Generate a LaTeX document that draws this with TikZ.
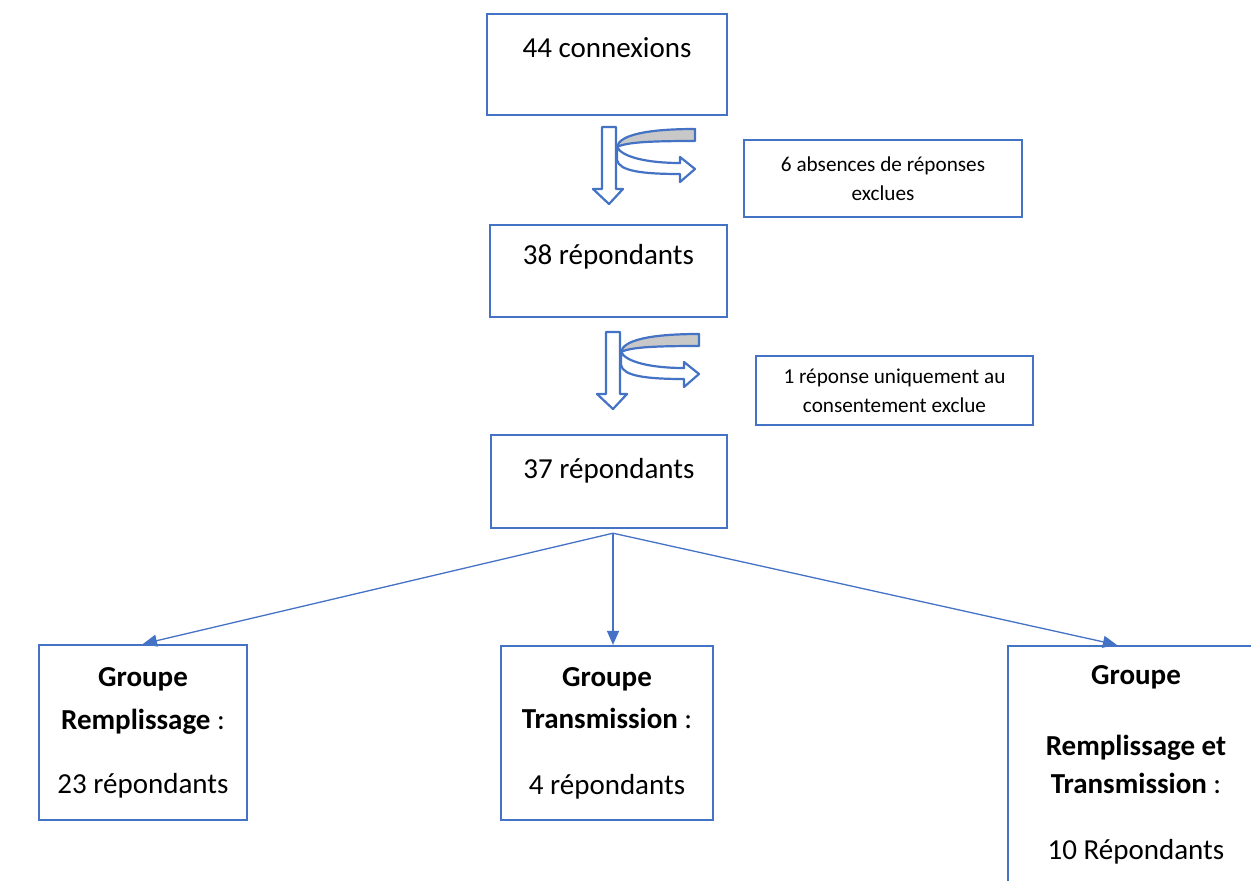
\documentclass[tikz,border=0pt]{standalone}
\usepackage{fontspec}
\setmainfont{Carlito}
\usetikzlibrary{arrows.meta,calc}
\definecolor{officeblue}{HTML}{4472C4}
\definecolor{bandgray}{HTML}{C8C8C8}

\tikzset{
  blockline/.style = {draw=officeblue, line width=2.2pt, line join=round},
  % fleche creuse vers le bas + demi-tour
  exclusion/.pic = {
    \draw[blockline, fill=white] (0,0) -- (14,0) -- (14,62) -- (21,62)
      -- (7,77) -- (-9,62) -- (0,62) -- cycle;
    \draw[blockline, fill=bandgray] (15,20) .. controls (17,8) and (45,2) .. (93,2)
      -- (93,14) .. controls (50,14) and (25,15) .. (15,20);
    \draw[blockline, fill=white] (15,20) .. controls (20,30) and (45,36) .. (78,36)
      -- (78,30) -- (93,42) -- (78,55) -- (78,47)
      .. controls (40,47) and (17,44) .. (15,33) -- cycle;
  }
}

\begin{document}
\begin{tikzpicture}[x=1pt, y=-1pt,
  every node/.style = {draw=officeblue, line width=2.2pt, align=center,
    font=\fontsize{29}{35.4}\selectfont},
  stage/.style = {anchor=north, inner xsep=0pt, inner ysep=0pt},
  note/.style = {font=\fontsize{21.2}{29}\selectfont, inner sep=0pt},
  group/.style = {inner sep=0pt},
  link/.style = {draw=officeblue, line width=1.3pt,
    -{Triangle[length=14pt, width=12pt]}}]
  \useasboundingbox (0,0) rectangle (1251,881);
  \clip (0,0) rectangle (1251,881);

  \node[stage, minimum width=240pt, text height=43pt, text depth=58pt]
    (b44) at (607,13) {44 connexions};
  \node[note, minimum width=278pt, minimum height=77pt]
    (ex1) at (883,178.5) {6 absences de réponses\\exclues};
  \node[stage, minimum width=237pt, text height=39pt, text depth=53pt]
    (b38) at (608.5,224) {38 répondants};
  \node[note, minimum width=277pt, minimum height=69pt]
    (ex2) at (894.5,390.5) {1 réponse uniquement au\\consentement exclue};
  \node[stage, minimum width=236pt, text height=43pt, text depth=50pt]
    (b37) at (609,434) {37 répondants};

  \pic at (602,127) {exclusion};
  \pic at (606,332) {exclusion};

  \node[group, minimum width=208pt, minimum height=175pt] (gl) at (143,732.5)
    {\textbf{Groupe}\\[8pt]\textbf{Remplissage} :\\[28pt]23 répondants};
  \node[group, minimum width=212pt, minimum height=174pt] (gm) at (607,733)
    {\textbf{Groupe}\\[7pt]\textbf{Transmission} :\\[30pt]4 répondants};
  \node[group, minimum width=256pt, minimum height=238pt] (gr) at (1136,765)
    {\textbf{Groupe}\\[36pt]\textbf{Remplissage et}\\[2pt]\textbf{Transmission} :\\[31pt]10 Répondants};

  \coordinate (fork) at ($(b37.south)+(4,4)$);
  \draw[link] (fork) -- (gl.north);
  \draw[link] (fork) -- (fork |- gm.north);
  \draw[link] (fork) -- ($(gr.north west)+(110,0)$);
\end{tikzpicture}
\end{document}
